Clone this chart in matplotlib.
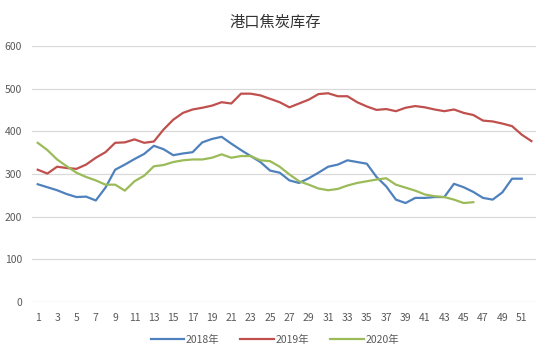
import matplotlib
matplotlib.use('Agg')
import matplotlib.pyplot as plt

plt.rcParams['font.family'] = ['Noto Sans CJK SC', 'DejaVu Sans']

# 周次
weeks = list(range(1, 53))

# 2018年港口焦炭库存
y2018 = [276, 269, 262, 253, 246, 247, 238, 268, 310, 322, 335, 347, 366, 358, 344, 348,
         351, 374, 382, 387, 371, 356, 342, 328, 308, 303, 285, 279, 290, 303, 317, 322,
         332, 328, 324, 293, 271, 240, 232, 244, 244, 246, 246, 277, 269, 258, 244, 240,
         257, 289, 289]

# 2019年
y2019 = [310, 301, 317, 314, 312, 322, 338, 351, 373, 374, 381, 373, 376, 404, 427, 443,
         451, 455, 460, 468, 465, 488, 488, 484, 476, 468, 456, 465, 474, 487, 489, 482,
         482, 468, 458, 450, 452, 447, 455, 459, 456, 451, 447, 451, 443, 438, 425, 423,
         418, 412, 392, 377]

# 2020年
y2020 = [373, 356, 334, 318, 303, 293, 285, 275, 275, 261, 283, 296, 318, 321, 328, 332,
         334, 334, 338, 346, 338, 342, 342, 332, 330, 317, 299, 283, 275, 266, 262, 265,
         273, 279, 283, 287, 290, 275, 268, 261, 252, 248, 246, 240, 232, 234]

series = [('2018年', y2018, '#4F81BD'),
          ('2019年', y2019, '#C0504D'),
          ('2020年', y2020, '#9BBB59')]

fig = plt.figure(figsize=(5.5, 3.58), dpi=100)
ax = fig.add_axes([0.058, 0.156, 0.917, 0.716])

for name, vals, color in series:
    ax.plot(weeks[:len(vals)], vals, color=color, linewidth=1.6, label=name)

ax.set_xlim(0.4, 52.5)
ax.set_ylim(0, 600)
ax.set_xticks(range(1, 53, 2))
ax.set_yticks(range(0, 601, 100))
ax.grid(axis='y', color='#D9D9D9', linewidth=0.9)
ax.set_axisbelow(True)
for s in ax.spines.values():
    s.set_visible(False)
ax.tick_params(length=0, labelsize=7.5, colors='#595959')
ax.tick_params(axis='x', pad=8)
ax.tick_params(axis='y', pad=7)

fig.suptitle('港口焦炭库存', y=0.96, fontsize=11, color='#333333')
fig.legend(loc='lower center', bbox_to_anchor=(0.5, 0.01), ncol=3, frameon=False,
           fontsize=7.5, labelcolor='#595959', handlelength=3.2, columnspacing=2.0,
           handletextpad=0.2)

fig.savefig('out.png', dpi=100)
